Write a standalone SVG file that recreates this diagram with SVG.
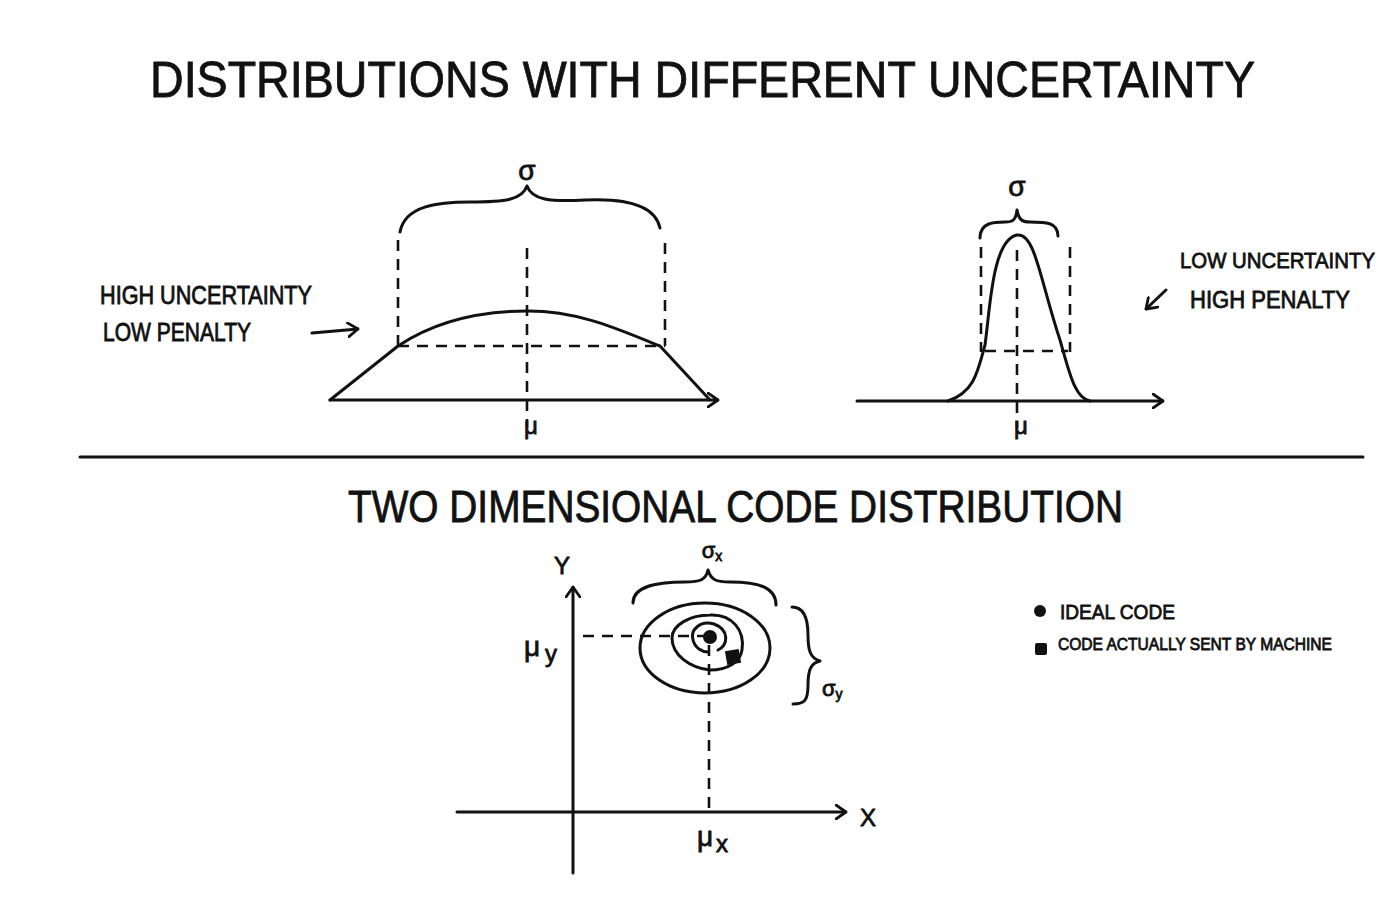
<svg xmlns="http://www.w3.org/2000/svg" width="1400" height="900" viewBox="0 0 1400 900">
<style>
.ln{fill:none;stroke:#111;stroke-width:3;stroke-linecap:round;stroke-linejoin:round}
.ds{fill:none;stroke:#111;stroke-width:2.6;stroke-dasharray:11 8}
.t{font-family:"Liberation Sans",Arial,sans-serif;fill:#111;stroke:#111;stroke-width:0.8}
</style>
<defs>
<marker id="ah" viewBox="0 0 12 16" refX="11" refY="8" markerWidth="12" markerHeight="16" markerUnits="userSpaceOnUse" orient="auto">
<path d="M1,1 L11,8 L1,15" fill="none" stroke="#111" stroke-width="2.8" stroke-linecap="round" stroke-linejoin="round"/>
</marker>
</defs>
<rect width="1400" height="900" fill="#fff"/>

<g id="title">
<text class="t" x="150" y="97" font-size="50" textLength="1105" lengthAdjust="spacingAndGlyphs">DISTRIBUTIONS WITH DIFFERENT UNCERTAINTY</text>
</g>

<g id="chart-high">
<path class="ln" d="M330,400 L718,400" marker-end="url(#ah)"/>
<path class="ln" d="M330,400 L398,346 C440,318 490,311 528,311 C580,311 620,330 660,346 L710,400"/>
<path class="ds" d="M398,240 V346 M527,248 V428 M665,243 V346 M398,346 H665"/>
<path class="ln" d="M400,232 C405,205 440,202 470,202 C505,202 522,200 527,186 C532,200 550,202 585,200 C625,198 655,205 660,228"/>
<text class="t" x="527" y="180" font-size="28" text-anchor="middle">σ</text>
<text class="t" x="531" y="434" font-size="24" text-anchor="middle">μ</text>
</g>
<g id="label-high">
<text class="t" x="100" y="304" font-size="25" textLength="212" lengthAdjust="spacingAndGlyphs">HIGH UNCERTAINTY</text>
<text class="t" x="103" y="341" font-size="25" textLength="148" lengthAdjust="spacingAndGlyphs">LOW PENALTY</text>
<path class="ln" d="M312,333 L358,329" marker-end="url(#ah)"/>
</g>

<g id="chart-low">
<path class="ln" d="M857,401 L1163,401" marker-end="url(#ah)"/>
<path class="ln" d="M948,401 C975,392 978,370 985,345 C990,310 992,240 1017,235 C1035,232 1040,280 1060,340 C1070,375 1075,398 1090,401"/>
<path class="ds" d="M981,247 V352 M1070,247 V352 M1017,250 V428 M985,351 H1068"/>
<path class="ln" d="M980,238 C980,222 995,222 1005,222 C1013,222 1016,220 1017,210 C1019,220 1022,222 1030,222 C1045,222 1058,222 1058,236"/>
<text class="t" x="1017" y="196" font-size="28" text-anchor="middle">σ</text>
<text class="t" x="1021" y="434" font-size="24" text-anchor="middle">μ</text>
</g>
<g id="label-low">
<text class="t" x="1180" y="268" font-size="22" textLength="195" lengthAdjust="spacingAndGlyphs">LOW UNCERTAINTY</text>
<text class="t" x="1190" y="308" font-size="23" textLength="160" lengthAdjust="spacingAndGlyphs">HIGH PENALTY</text>
<path class="ln" d="M1166,290 L1146,309" marker-end="url(#ah)"/>
</g>

<path class="ln" d="M80,457 H1363" stroke-width="2.6"/>

<g id="subtitle">
<text class="t" x="348" y="522" font-size="44" textLength="775" lengthAdjust="spacingAndGlyphs">TWO DIMENSIONAL CODE DISTRIBUTION</text>
</g>

<g id="chart-2d">
<path class="ln" d="M457,812 L846,812" marker-end="url(#ah)"/>
<path class="ln" d="M573,873 L573,587" marker-end="url(#ah)"/>
<text class="t" x="868" y="826" font-size="24" text-anchor="middle">X</text>
<text class="t" x="562" y="574" font-size="24" text-anchor="middle">Y</text>
<text class="t" x="524" y="656" font-size="28">μ</text>
<text class="t" x="545" y="662" font-size="24">y</text>
<text class="t" x="697" y="846" font-size="28">μ</text>
<text class="t" x="716" y="852" font-size="24">x</text>
<path class="ds" d="M583,636 H705 M709,645 V808"/>
<ellipse class="ln" cx="705" cy="648" rx="65" ry="45"/>
<path class="ln" d="M742,650 C745,630 732,614 710,615 C690,615 672,625 672,638 C672,655 690,668 710,670 C728,670 740,662 742,650 Z"/>
<path class="ln" d="M718,650 C728,645 730,630 714,624 C700,620 690,630 693,640 C695,648 702,652 708,652"/>
<circle cx="710" cy="637" r="7" fill="#111"/>
<rect x="726" y="650" width="14" height="14" fill="#111" transform="rotate(-10 733 657)"/>
<path class="ln" d="M633,603 C633,585 660,582 685,582 C700,582 706,580 708,570 C711,580 716,582 730,582 C760,582 776,588 776,605"/>
<text class="t" x="712" y="558" font-size="22" text-anchor="middle">σ<tspan font-size="14" dy="3">x</tspan></text>
<path class="ln" d="M792,607 C805,607 808,620 808,635 C808,650 810,658 820,661 C810,663 808,672 808,685 C808,700 805,704 793,704"/>
<text class="t" x="822" y="696" font-size="22">σ<tspan font-size="14" dy="3">y</tspan></text>
</g>

<g id="legend">
<circle cx="1040" cy="611" r="6" fill="#111"/>
<text class="t" x="1060" y="619" font-size="21" textLength="115" lengthAdjust="spacingAndGlyphs">IDEAL CODE</text>
<rect x="1035" y="643" width="12" height="12" rx="2" fill="#111"/>
<text class="t" x="1058" y="650" font-size="17" textLength="274" lengthAdjust="spacingAndGlyphs">CODE ACTUALLY SENT BY MACHINE</text>
</g>
</svg>
